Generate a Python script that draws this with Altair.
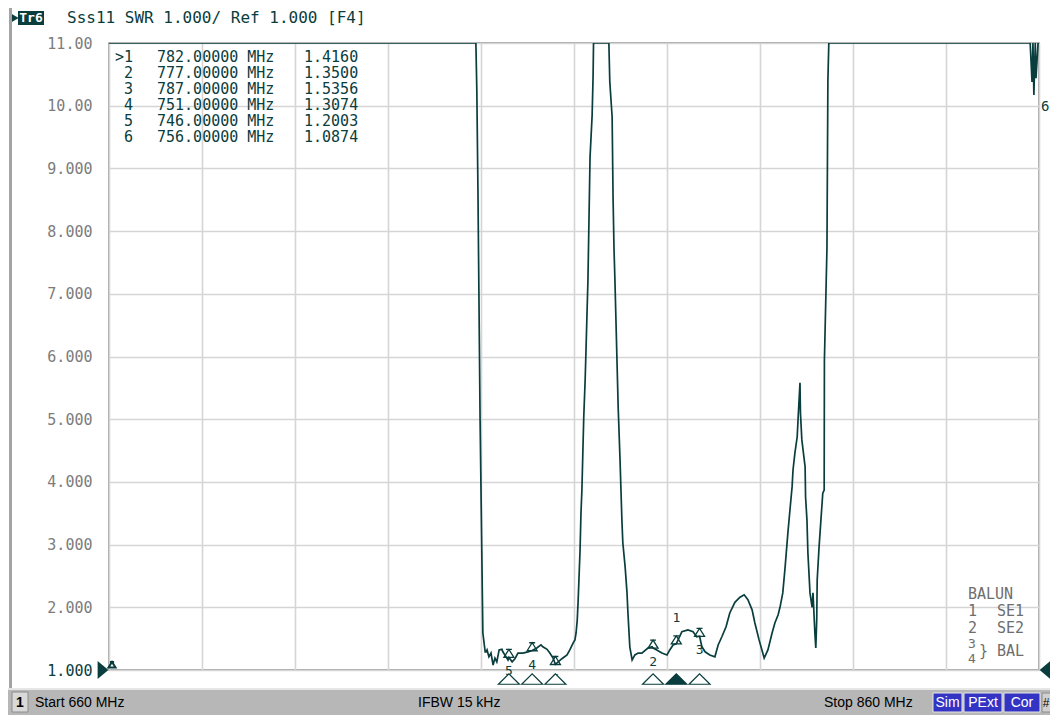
import altair as alt
import pandas as pd

# ---------------- data ----------------
freq_mhz = [
    660.0, 738.9, 739.1, 739.35, 739.8, 740.4, 740.9, 741.1, 741.3, 741.7,
    742.15, 742.6, 743.0, 743.4, 743.9, 744.5, 744.7, 745.4, 745.8, 746.0,
    746.7, 747.3, 747.95, 749.0, 750.1, 751.0, 752.0, 752.9, 753.3, 754.2,
    754.8, 755.5, 756.0, 756.6, 757.4, 758.5, 759.1, 759.8, 760.2, 760.45,
    760.7, 760.9, 761.3, 761.5, 761.7, 761.9, 762.1, 762.4, 762.6, 762.8,
    763.0, 763.45, 763.9, 764.1, 764.2, 767.5, 767.7, 768.2, 768.4, 768.6,
    768.8, 769.2, 769.5, 769.9, 770.3, 770.5, 771.0, 771.4, 771.6, 772.0,
    772.5, 773.1, 773.8, 774.6, 775.9, 776.8, 777.0, 777.8, 778.9, 780.0,
    780.6, 781.3, 782.0, 783.2, 784.5, 785.6, 786.4, 787.0, 787.5, 788.2,
    789.2, 790.3, 791.0, 791.8, 792.7, 793.5, 794.6, 795.7, 796.6, 797.4,
    798.3, 798.9, 799.8, 800.9, 801.7, 802.6, 803.2, 803.9, 804.3, 804.9,
    805.4, 806.0, 806.5, 806.9, 807.1, 807.5, 808.0, 808.2, 808.6, 808.7,
    809.0, 809.7, 809.8, 810.1, 810.3, 810.75, 811.2, 811.4, 811.8, 812.0,
    812.2, 812.3, 812.7, 813.1, 813.5, 813.8, 813.85, 814.4, 814.6, 814.8,
    858.1, 858.5, 858.7, 858.9, 859.2, 859.35, 859.8, 860.0,
]
swr = [
    11.0, 11.0, 10.25, 8.61, 5.02, 1.59, 1.29, 1.29, 1.32, 1.21,
    1.27, 1.08, 1.19, 1.13, 1.32, 1.33, 1.29, 1.21, 1.16, 1.20,
    1.13, 1.18, 1.27, 1.27, 1.29, 1.31, 1.35, 1.40, 1.37, 1.33,
    1.27, 1.19, 1.09, 1.13, 1.18, 1.24, 1.32, 1.43, 1.48, 1.59,
    1.80, 2.12, 2.91, 3.50, 3.87, 4.46, 5.04, 5.63, 6.15, 6.69,
    7.22, 9.18, 9.85, 10.46, 11.0, 11.0, 10.38, 9.82, 8.54, 7.73,
    7.22, 6.06, 5.19, 4.35, 3.39, 3.03, 2.64, 2.23, 1.91, 1.37,
    1.16, 1.24, 1.27, 1.27, 1.35, 1.37, 1.35, 1.32, 1.27, 1.24,
    1.32, 1.40, 1.416, 1.61, 1.64, 1.61, 1.53, 1.54, 1.37, 1.29,
    1.24, 1.21, 1.40, 1.53, 1.69, 1.91, 2.08, 2.16, 2.20, 2.12,
    1.96, 1.75, 1.48, 1.19, 1.32, 1.59, 1.75, 1.88, 2.00, 2.23,
    2.64, 3.19, 3.60, 3.92, 4.19, 4.46, 4.72, 5.02, 5.58, 5.10,
    4.67, 4.24, 3.76, 3.39, 2.87, 2.23, 2.00, 2.23, 1.59, 1.35,
    1.80, 2.44, 2.96, 3.39, 3.82, 3.87, 5.94, 7.73, 10.4, 11.0,
    11.0, 10.38, 11.0, 10.17, 11.0, 10.44, 11.0, 11.0,
]

marker_ids = [1, 2, 3, 4, 5, 6]
marker_freq = [782.0, 777.0, 787.0, 751.0, 746.0, 756.0]
marker_swr = [1.4160, 1.3500, 1.5356, 1.3074, 1.2003, 1.0874]
active_marker = 1

x_ticks = [660, 680, 700, 720, 740, 760, 780, 800, 820, 840, 860]
y_ticks = [1, 2, 3, 4, 5, 6, 7, 8, 9, 10, 11]

trace_tag = "Tr6"
title_text = "Sss11 SWR 1.000/ Ref 1.000 [F4]"
start_label = "Start 660 MHz"
ifbw_label = "IFBW 15 kHz"
stop_label = "Stop 860 MHz"
channel_label = "1"
status_flags = ["Sim", "PExt", "Cor"]
balun_lines = ["BALUN", "1", "SE1", "2", "SE2", "3", "4", "} BAL"]

# ---------------- styling ----------------
TEAL = "#0a3d3d"
GREY_TXT = "#7c7c7c"
MONO = "DejaVu Sans Mono"
SANS = "Liberation Sans"
W, H = 930, 627

trace_df = pd.DataFrame({"freq": freq_mhz, "swr": swr})
mk_df = pd.DataFrame({"id": marker_ids, "freq": marker_freq, "swr": marker_swr})
one = pd.DataFrame({"a": [0]})

xs = alt.Scale(domain=[660, 860], nice=False, zero=False)
ys = alt.Scale(domain=[1, 11], nice=False, zero=False)

base = alt.Chart(trace_df).encode(
    x=alt.X("freq:Q", scale=xs,
            axis=alt.Axis(values=x_ticks, labels=False, ticks=False, domain=False,
                          grid=True, gridColor="#d5d5d5", gridWidth=1.6, title=None)),
    y=alt.Y("swr:Q", scale=ys,
            axis=alt.Axis(values=y_ticks, ticks=False, domain=False, grid=True,
                          gridColor="#d5d5d5", gridWidth=1.6, title=None,
                          labelExpr="datum.value >= 10 ? format(datum.value, '.2f') : format(datum.value, '.3f')",
                          labelFont=MONO, labelFontSize=15, labelPadding=17,
                          labelColor=alt.condition("datum.value == 1", alt.value(TEAL), alt.value(GREY_TXT)))),
)
trace = base.mark_line(color=TEAL, strokeWidth=1.7, clip=True)


def ptext(txt, x, y, **kw):
    return alt.Chart(one).mark_text(text=txt, **kw).encode(x=alt.value(x), y=alt.value(y))


def prect(x, x2, y, y2, **kw):
    return alt.Chart(one).mark_rect(**kw).encode(
        x=alt.value(x), x2=alt.value(x2), y=alt.value(y), y2=alt.value(y2))


def psym(shape, x, y, size, **kw):
    return alt.Chart(one).mark_point(shape=shape, size=size, **kw).encode(
        x=alt.value(x), y=alt.value(y))


layers = [trace]

# markers on trace
layers.append(alt.Chart(mk_df).mark_point(
    shape="M-1,1L0,-0.6L1,1Z M-0.6,-0.6L0.6,-0.6", size=100, filled=False,
    color=TEAL, strokeWidth=1.3, yOffset=-5, opacity=1).encode(
    x=alt.X("freq:Q", scale=xs), y=alt.Y("swr:Q", scale=ys)))
layers.append(alt.Chart(mk_df).transform_filter(f"datum.id == {active_marker}").mark_text(
    font=MONO, fontSize=13, color=TEAL, dy=-26).encode(
    x="freq:Q", y="swr:Q", text="id:N"))
layers.append(alt.Chart(mk_df).transform_filter(f"datum.id != {active_marker}").mark_text(
    font=MONO, fontSize=13, color=TEAL, dy=14).encode(
    x="freq:Q", y="swr:Q", text="id:N"))

# marker triangles under the grid
layers.append(alt.Chart(mk_df).mark_point(
    shape="M-1,0.5L0,-0.5L1,0.5Z", size=440, filled=True, stroke=TEAL,
    strokeWidth=1.2, opacity=1).encode(
    x=alt.X("freq:Q", scale=xs), y=alt.value(636),
    fill=alt.condition(f"datum.id == {active_marker}", alt.value(TEAL), alt.value("white"))))

# marker table
for i, (mid, mf, mv) in enumerate(zip(marker_ids, marker_freq, marker_swr)):
    yy = 14 + 16 * i
    lab = (">" if mid == active_marker else "") + str(mid)
    layers.append(ptext(lab, 24, yy, font=MONO, fontSize=15, color=TEAL, align="right", baseline="middle"))
    layers.append(ptext(f"{mf:.5f} MHz", 48, yy, font=MONO, fontSize=15, color=TEAL, align="left", baseline="middle"))
    layers.append(ptext(f"{mv:.4f}", 195, yy, font=MONO, fontSize=15, color=TEAL, align="left", baseline="middle"))

# title line
layers.append(psym("triangle-right", -94, -25, 70, filled=True, color=TEAL, opacity=1))
layers.append(prect(-91, -65, -32, -18, color=TEAL))
layers.append(ptext(trace_tag, -78, -25, font=MONO, fontSize=13, fontWeight="bold", color="white", align="center", baseline="middle"))
layers.append(ptext(title_text, -42, -25, font=MONO, fontSize=16, color=TEAL, align="left", baseline="middle"))

# reference level arrows and small start marker
layers.append(psym("M-0.6,-1L0.6,0L-0.6,1Z", -6, 627, 324, filled=True, color=TEAL, opacity=1))
layers.append(psym("M0.6,-1L-0.6,0L0.6,1Z", 936, 627, 324, filled=True, color=TEAL, opacity=1))
layers.append(psym("M-1,1L0,-0.6L1,1Z M-0.6,-0.6L0.6,-0.6", 3, 621, 50, filled=False, color=TEAL, opacity=1))
layers.append(ptext("6", 932, 64, font=MONO, fontSize=14, color=TEAL, align="left", baseline="middle"))

# BALUN legend
bal_pos = [(859, 551), (859, 568), (888, 568), (859, 585), (888, 585), (859, 601), (859, 616), (870, 608)]
bal_size = [15, 15, 15, 15, 15, 13, 13, 15]
for txt, (bx, by), fs in zip(balun_lines, bal_pos, bal_size):
    layers.append(ptext(txt, bx, by, font=MONO, fontSize=fs, color="#6e6e6e", align="left", baseline="middle"))

# outer frame and status bar
layers.append(prect(-100, -97, -35, 646, color="#a4a4a4"))
layers.append(prect(-101, 945, 645, 675, color="#b7b7b7"))
layers.append(prect(-101, 945, 645, 647, color="#e6e6e6"))
layers.append(prect(-97, -81, 649, 669, color="#d9d9d9", stroke="#8c8c8c", strokeWidth=1))
layers.append(ptext(channel_label, -89, 660, font=SANS, fontSize=14, fontWeight="bold", color="black", align="center", baseline="middle"))
layers.append(ptext(start_label, -74, 660, font=SANS, fontSize=14, color="black", align="left", baseline="middle"))
layers.append(ptext(ifbw_label, 309, 660, font=SANS, fontSize=14, color="black", align="left", baseline="middle"))
layers.append(ptext(stop_label, 715, 660, font=SANS, fontSize=14, color="black", align="left", baseline="middle"))
flag_boxes = [(824, 853), (855, 893), (895, 931)]
for txt, (fx, fx2) in zip(status_flags, flag_boxes):
    layers.append(prect(fx, fx2, 650, 669, color="#3333c4", stroke="#e8e8e8", strokeWidth=1))
    layers.append(ptext(txt, (fx + fx2) / 2, 660, font=SANS, fontSize=14, color="white", align="center", baseline="middle"))
layers.append(prect(933, 945, 650, 669, color="#d0d0d0", stroke="#8c8c8c", strokeWidth=1))
layers.append(ptext("#", 937, 660, font=SANS, fontSize=12, color="black", align="center", baseline="middle"))

chart = alt.layer(*layers).properties(
    width=W, height=H,
    autosize=alt.AutoSizeParams(type="none"),
    padding={"left": 101, "top": 35, "right": 11, "bottom": 45},
    background="white",
).configure_view(stroke="#8a8a8a", strokeWidth=1.5)

chart.save("out.html", embed_options={"renderer": "svg", "actions": False})
